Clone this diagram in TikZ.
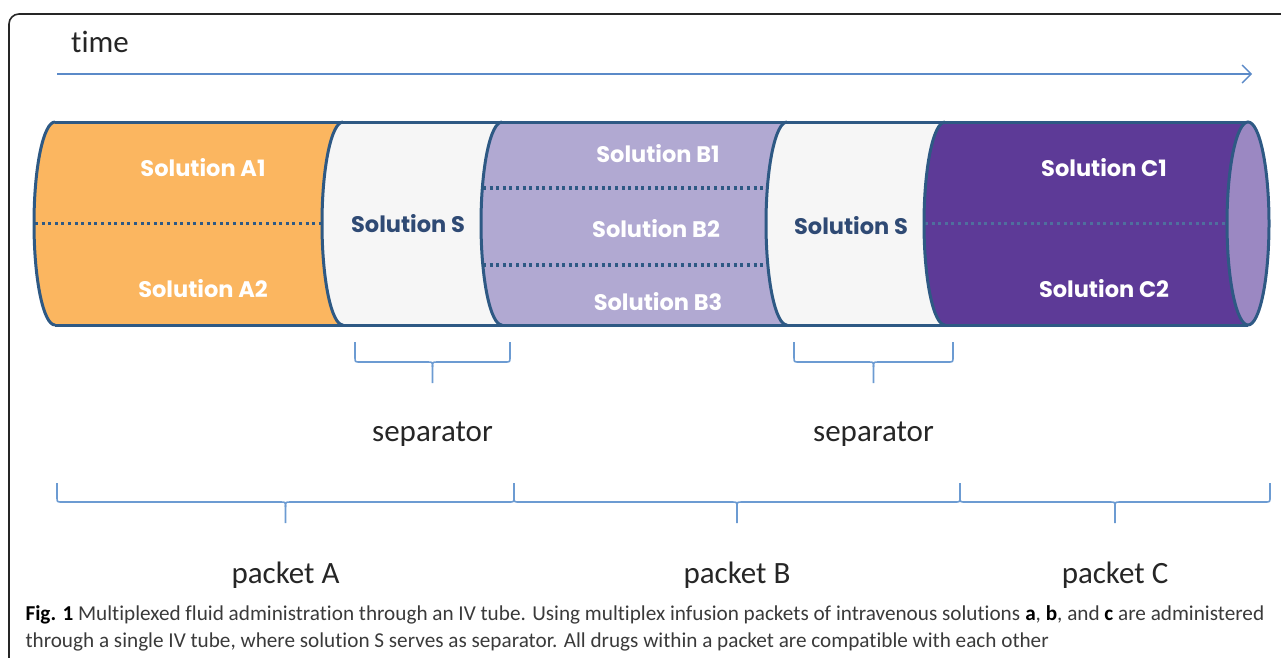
\documentclass[tikz,border=0pt]{standalone}
\usepackage{fontspec}
\setmainfont{Carlito}[Ligatures=NoCommon]
\newfontfamily\solfont{Poppins}
\usetikzlibrary{arrows.meta}
\definecolor{tubeline}{HTML}{2E5984}
\definecolor{fillA}{HTML}{FBB660}
\definecolor{fillS}{HTML}{F6F6F6}
\definecolor{fillB}{HTML}{B1A9D2}
\definecolor{fillC}{HTML}{5D3A97}
\definecolor{capcol}{HTML}{9B88C2}
\definecolor{soltext}{HTML}{2F4A74}
\definecolor{bracecol}{HTML}{6C9BD2}
\definecolor{timecol}{HTML}{5B8AC8}
\definecolor{labeltext}{HTML}{262626}
\definecolor{captext}{HTML}{3A3A3A}
\definecolor{dotC}{HTML}{4F6F9E}

\begin{document}
\begin{tikzpicture}[x=1pt, y=-1pt]
    \tikzset{solwhite/.style={font=\solfont\bfseries\fontsize{22.5}{26}\selectfont, text=white},
        soldark/.style={solwhite, text=soltext},
        bracket/.style={draw=bracecol, line width=1.6pt, line join=round},
        bigtext/.style={font=\fontsize{31}{36}\selectfont, text=labeltext},
        captext/.style={font=\fontsize{21.2}{25}\selectfont, text=captext, anchor=base west},
        partition/.style={draw=#1, line width=3.2pt, dash pattern=on 3pt off 3.6pt}
    }
    \useasboundingbox (0,0) rectangle (1281,657);
    % frame
    \draw[black!85, line width=1.6pt, rounded corners=10pt] (9,662) -- (9,14) -- (1290,14);
    % time axis
    \node[bigtext, anchor=base west, inner sep=0pt] (time) at (71,52) {time};
    \coordinate (t0) at (57,74);
    \coordinate (t1) at (1252,74);
    \draw[draw=timecol, line width=1.4pt,
        -{Straight Barb[length=9pt, width=18pt, line width=1.4pt]}] (t0) -- (t1);
    % tube segments
    \foreach \xa/\xb/\col in
        {55/343/fillA, 343/502/fillS, 502/787/fillB, 787/945/fillS, 945/1248/fillC} {
        \fill[\col] (\xa,122) -- (\xb,122)
            arc[start angle=270, end angle=90, x radius=21, y radius=101.5]
            -- (\xa,325) arc[start angle=90, end angle=270, x radius=21, y radius=101.5]
            -- cycle;
    }
    % dotted partitions
    \draw[partition=tubeline] (35,223.5) -- (322,223.5);
    \draw[partition=tubeline] (483,188) -- (767,188);
    \draw[partition=tubeline] (483,265) -- (767,265);
    \draw[partition=dotC] (925,223.5) -- (1226,223.5);
    % outline
    \draw[tubeline, line width=3pt] (55,122) -- (1248,122) (55,325) -- (1248,325);
    \foreach \xb in {55, 343, 502, 787, 945} {
        \draw[tubeline, line width=3pt] (\xb,122)
            arc[start angle=270, end angle=90, x radius=21, y radius=101.5];
    }
    \draw[tubeline, line width=3pt, fill=capcol] (1248,223.5)
        ellipse[x radius=21, y radius=101.5];
    % solution labels
    \foreach \name/\xpos/\ypos/\label in
        {solA1/203/168/A1, solA2/203/289/A2, solB1/658/154/B1, solB2/656/229/B2,
         solB3/658/302/B3, solC1/1104/168/C1, solC2/1104/289/C2} {
        \node[solwhite] (\name) at (\xpos,\ypos) {Solution \label};
    }
    \node[soldark] (solS1) at (408,224) {Solution S};
    \node[soldark] (solS2) at (851,226) {Solution S};
    % braces
    \foreach \xa/\xb/\ya/\yb/\yc/\tip in
        {355/510/342/362/383/sepA, 794/953/342/362/383/sepB,
         57/514/483/502/523/packA, 514/960/483/502/523/packB, 960/1270/483/502/523/packC} {
        \coordinate (\tip) at ({(\xa+\xb)/2},\yc);
        \draw[bracket] (\xa,\ya) -- (\xa,\yb-5) .. controls (\xa,\yb) .. (\xa+5,\yb)
            -- ({(\xa+\xb)/2-5},\yb) .. controls ({(\xa+\xb)/2},\yb) .. ({(\xa+\xb)/2},\yb+5)
            -- (\tip);
        \draw[bracket] ({(\xa+\xb)/2},\yb+5) .. controls ({(\xa+\xb)/2},\yb) .. ({(\xa+\xb)/2+5},\yb)
            -- (\xb-5,\yb) .. controls (\xb,\yb) .. (\xb,\yb-5) -- (\xb,\ya);
    }
    \node[bigtext, anchor=base] (sepAtext) at (sepA |- 0,441) {separator};
    \node[bigtext, anchor=base] (sepBtext) at (sepB |- 0,441) {separator};
    \node[bigtext, anchor=base] (packAtext) at (packA |- 0,583) {packet A};
    \node[bigtext, anchor=base] (packBtext) at (packB |- 0,583) {packet B};
    \node[bigtext, anchor=base] (packCtext) at (packC |- 0,583) {packet C};
    % caption
    \node[captext] (cap1) at (22,620) {\textcolor{black}{\textbf{Fig. 1}} Multiplexed fluid
        administration through an IV tube. Using multiplex infusion packets of intravenous
        solutions \textcolor{black}{\textbf{a}}, \textcolor{black}{\textbf{b}}, and
        \textcolor{black}{\textbf{c}} are administered};
    \node[captext] (cap2) at (22,647) {through a single IV tube, where solution S serves as
        separator. All drugs within a packet are compatible with each other};
\end{tikzpicture}
\end{document}
